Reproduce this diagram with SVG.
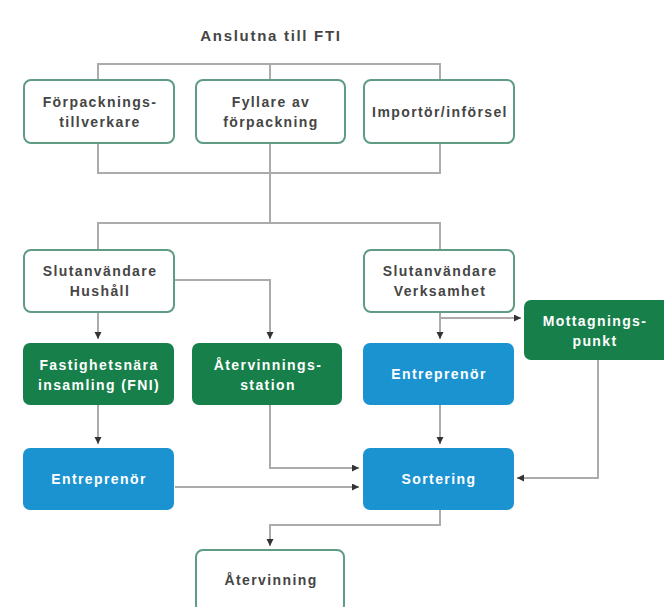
<svg xmlns="http://www.w3.org/2000/svg" width="664" height="607" viewBox="0 0 664 607">
<defs>
<marker id="arr" markerUnits="userSpaceOnUse" markerWidth="9" markerHeight="8" refX="7" refY="3.5" orient="auto">
<path d="M0,0 L7,3.5 L0,7 Z" fill="#333"/>
</marker>
<style>
.cn{fill:none;stroke:#ababab;stroke-width:2}
.wb{fill:#fff;stroke:#5f9c84;stroke-width:2}
.gb{fill:#17804a}
.bb{fill:#1c93d1}
text{font-family:"Liberation Sans",Arial,sans-serif;font-weight:bold;font-size:14px;text-anchor:middle;letter-spacing:1.4px}
.dk{fill:#454545}
.wt{fill:#fff}
</style>
</defs>
<rect width="664" height="607" fill="#fff"/>
<text x="271" y="41" class="dk" style="font-size:15px;letter-spacing:1.7px">Anslutna till FTI</text>
<g id="connectors">
<path class="cn" d="M98,64 H440 V173 H98 Z"/>
<path class="cn" d="M270,64 V223"/>
<path class="cn" d="M98,250 V223 H440 V250"/>
<path class="cn" d="M98,312 V339" marker-end="url(#arr)"/>
<path class="cn" d="M173,280 H270 V339" marker-end="url(#arr)"/>
<path class="cn" d="M440,312 V339" marker-end="url(#arr)"/>
<path class="cn" d="M440,318 H521" marker-end="url(#arr)"/>
<path class="cn" d="M98,405 V444" marker-end="url(#arr)"/>
<path class="cn" d="M270,405 V468 H359" marker-end="url(#arr)"/>
<path class="cn" d="M175,487 H359" marker-end="url(#arr)"/>
<path class="cn" d="M440,405 V444" marker-end="url(#arr)"/>
<path class="cn" d="M598,360 V478 H517" marker-end="url(#arr)"/>
<path class="cn" d="M440,510 V525 H270 V546" marker-end="url(#arr)"/>
</g>
<g id="forpackningstillverkare">
<rect class="wb" x="24" y="80" width="150" height="63" rx="7"/>
<text class="dk" x="100" y="107">Förpacknings-</text>
<text class="dk" x="100" y="127">tillverkare</text>
</g>
<g id="fyllare">
<rect class="wb" x="196" y="80" width="149" height="63" rx="7"/>
<text class="dk" x="271" y="107">Fyllare av</text>
<text class="dk" x="271" y="127">förpackning</text>
</g>
<g id="importor">
<rect class="wb" x="364" y="80" width="150" height="63" rx="7"/>
<text class="dk" x="440" y="117">Importör/införsel</text>
</g>
<g id="hushall">
<rect class="wb" x="24" y="250" width="150" height="62" rx="7"/>
<text class="dk" x="100" y="276">Slutanvändare</text>
<text class="dk" x="100" y="296">Hushåll</text>
</g>
<g id="verksamhet">
<rect class="wb" x="364" y="250" width="150" height="62" rx="7"/>
<text class="dk" x="440" y="276">Slutanvändare</text>
<text class="dk" x="440" y="296">Verksamhet</text>
</g>
<g id="mottagningspunkt">
<rect class="gb" x="524" y="300" width="150" height="60" rx="7"/>
<text class="wt" x="595" y="326">Mottagnings-</text>
<text class="wt" x="595" y="346">punkt</text>
</g>
<g id="fni">
<rect class="gb" x="23" y="343" width="151" height="62" rx="7"/>
<text class="wt" x="99" y="370">Fastighetsnära</text>
<text class="wt" x="99" y="390">insamling (FNI)</text>
</g>
<g id="atervinningsstation">
<rect class="gb" x="192" y="343" width="150" height="62" rx="7"/>
<text class="wt" x="268" y="370">Återvinnings-</text>
<text class="wt" x="268" y="390">station</text>
</g>
<g id="entreprenor-r">
<rect class="bb" x="363" y="343" width="151" height="62" rx="7"/>
<text class="wt" x="439" y="379">Entreprenör</text>
</g>
<g id="entreprenor-l">
<rect class="bb" x="23" y="448" width="151" height="62" rx="7"/>
<text class="wt" x="99" y="484">Entreprenör</text>
</g>
<g id="sortering">
<rect class="bb" x="363" y="448" width="151" height="62" rx="7"/>
<text class="wt" x="439" y="484">Sortering</text>
</g>
<g id="atervinning">
<rect class="wb" x="196" y="550" width="148" height="62" rx="7"/>
<text class="dk" x="271" y="585">Återvinning</text>
</g>
</svg>
